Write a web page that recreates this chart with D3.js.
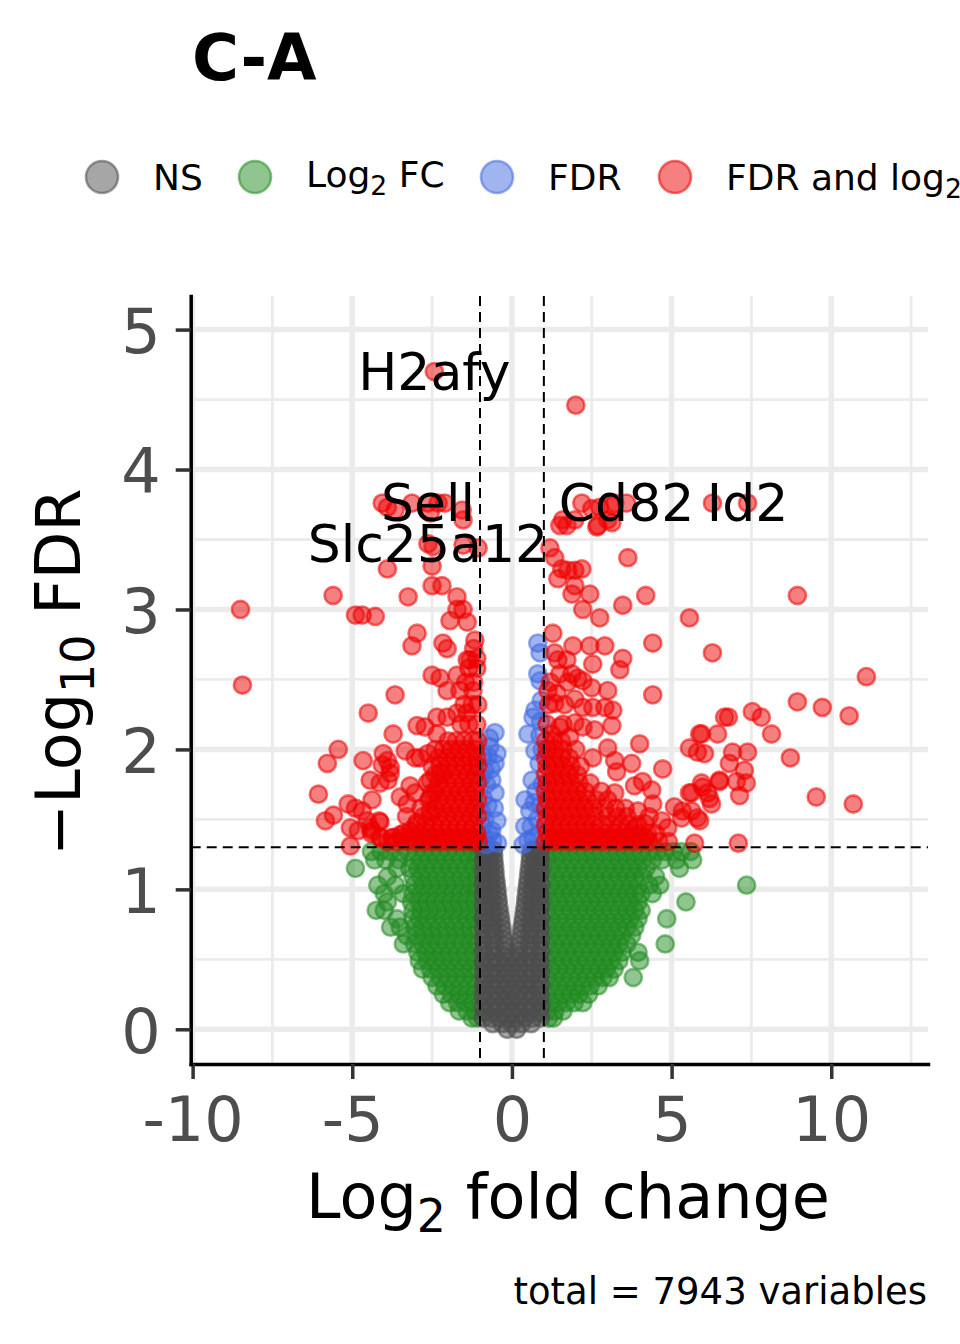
<!DOCTYPE html>
<html>
<head>
<meta charset="utf-8">
<script src="https://cdn.jsdelivr.net/npm/d3@7"></script>
<style>
body { margin: 0; background: #fff; }
text { font-family: "DejaVu Sans", sans-serif; }
</style>
</head>
<body>
<script>
// volcano plot C-A

var xTicks = [-10, -5, 0, 5, 10];
var yTicks = [0, 1, 2, 3, 4, 5];
var xMinor = [-7.5, -2.5, 2.5, 7.5, 12.5];
var yMinor = [0.5, 1.5, 2.5, 3.5, 4.5];
var fcCutoff = 1;
var fdrCutoff = 0.05;
var totalGenes = 7943;

// NS (grey) rows: [ -log10 FDR, [log2FC ...] ]
var nsRows = [
  [1.28, [-0.9, -0.73, -0.58, 0.6, 0.75, 0.9]],
  [1.24, [-0.84, -0.68, -0.57, 0.58, 0.7, 0.86]],
  [1.20, [-0.9, -0.72, -0.56, 0.57, 0.74, 0.9]],
  [1.16, [-0.84, -0.67, -0.54, 0.55, 0.68, 0.85]],
  [1.12, [-0.9, -0.72, -0.53, 0.53, 0.72, 0.9]],
  [1.08, [-0.84, -0.66, -0.51, 0.51, 0.66, 0.84]],
  [1.04, [-0.9, -0.7, -0.49, 0.49, 0.7, 0.9]],
  [1.00, [-0.84, -0.64, -0.47, 0.47, 0.64, 0.84]],
  [0.96, [-0.9, -0.68, -0.45, 0.45, 0.68, 0.9]],
  [0.92, [-0.84, -0.62, -0.43, 0.43, 0.62, 0.84]],
  [0.88, [-0.9, -0.66, -0.41, 0.41, 0.66, 0.9]],
  [0.84, [-0.84, -0.6, -0.39, 0.39, 0.6, 0.84]],
  [0.80, [-0.9, -0.64, -0.36, 0.36, 0.64, 0.9]],
  [0.76, [-0.84, -0.58, -0.34, 0.34, 0.58, 0.84]],
  [0.72, [-0.9, -0.62, -0.31, 0.31, 0.62, 0.9]],
  [0.68, [-0.84, -0.56, -0.29, 0.29, 0.56, 0.84]],
  [0.64, [-0.9, -0.6, -0.27, 0.27, 0.6, 0.9]],
  [0.60, [-0.84, -0.54, -0.24, 0.24, 0.54, 0.84]],
  [0.56, [-0.9, -0.58, -0.22, 0.22, 0.58, 0.9]],
  [0.52, [-0.84, -0.55, -0.25, 0, 0.25, 0.55, 0.84]],
  [0.48, [-0.9, -0.65, -0.4, -0.13, 0.13, 0.4, 0.65, 0.9]],
  [0.44, [-0.84, -0.55, -0.25, 0, 0.25, 0.55, 0.84]],
  [0.40, [-0.9, -0.65, -0.4, -0.13, 0.13, 0.4, 0.65, 0.9]],
  [0.36, [-0.84, -0.55, -0.25, 0, 0.25, 0.55, 0.84]],
  [0.32, [-0.9, -0.65, -0.4, -0.13, 0.13, 0.4, 0.65, 0.9]],
  [0.28, [-0.84, -0.55, -0.25, 0, 0.25, 0.55, 0.84]],
  [0.24, [-0.9, -0.65, -0.4, -0.13, 0.13, 0.4, 0.65, 0.9]],
  [0.20, [-0.84, -0.55, -0.25, 0, 0.25, 0.55, 0.84]],
  [0.16, [-0.9, -0.65, -0.4, -0.13, 0.13, 0.4, 0.65, 0.9]],
  [0.12, [-0.84, -0.55, -0.25, 0, 0.25, 0.55, 0.84]],
  [0.08, [-0.9, -0.65, -0.4, -0.13, 0.13, 0.4, 0.65, 0.9]],
  [0.04, [-0.6, -0.3, 0, 0.3, 0.6]],
  [0.0, [-0.15, 0.15]]
];

// Log2 FC only (green) rows
var fcRows = [
  [1.27, [-4.4, -4.1, -3.8, -3.5, -3.25, -3.0, -2.75, -2.5, -2.25, -2.0, -1.75, -1.5, -1.25, -1.08,
          1.08, 1.3, 1.55, 1.8, 2.05, 2.3, 2.55, 2.8, 3.05, 3.3, 3.55, 3.8, 4.05, 4.3, 4.55, 4.8, 5.05, 5.3, 5.6]],
  [1.21, [-4.3, -3.95, -3.55, -3.1, -2.85, -2.6, -2.35, -2.1, -1.85, -1.6, -1.35, -1.1,
          1.1, 1.35, 1.6, 1.85, 2.1, 2.35, 2.6, 2.85, 3.1, 3.35, 3.6, 3.85, 4.1, 4.4, 4.7, 5.15, 5.66]],
  [1.15, [-4.9, -3.6, -3.2, -2.95, -2.7, -2.45, -2.2, -1.95, -1.7, -1.45, -1.2,
          1.2, 1.45, 1.7, 1.95, 2.2, 2.45, 2.7, 2.95, 3.2, 3.45, 3.7, 3.95, 4.2, 5.25]],
  [1.09, [-3.9, -3.1, -2.85, -2.6, -2.35, -2.1, -1.85, -1.6, -1.35, -1.1,
          1.1, 1.35, 1.6, 1.85, 2.1, 2.35, 2.6, 2.85, 3.1, 3.35, 3.6, 3.85, 4.1, 4.5]],
  [1.03, [-4.2, -3.65, -3.05, -2.8, -2.55, -2.3, -2.05, -1.8, -1.55, -1.3, -1.08,
          1.2, 1.45, 1.7, 1.95, 2.2, 2.45, 2.7, 2.95, 3.2, 3.45, 3.7, 3.95, 4.3, 4.63, 7.35]],
  [0.97, [-4.0, -3.4, -3.1, -2.85, -2.6, -2.35, -2.1, -1.85, -1.6, -1.35, -1.12,
          1.1, 1.35, 1.6, 1.85, 2.1, 2.35, 2.6, 2.85, 3.1, 3.35, 3.6, 3.85, 4.05, 4.4]],
  [0.91, [-3.9, -3.15, -2.9, -2.65, -2.4, -2.15, -1.9, -1.65, -1.4, -1.15,
          1.2, 1.45, 1.7, 1.95, 2.2, 2.45, 2.7, 2.95, 3.2, 3.45, 3.7, 3.95, 5.45]],
  [0.85, [-4.25, -4.0, -3.1, -2.85, -2.6, -2.35, -2.1, -1.85, -1.6, -1.35, -1.1,
          1.1, 1.35, 1.6, 1.85, 2.1, 2.35, 2.6, 2.85, 3.1, 3.35, 3.6, 3.85, 4.05]],
  [0.79, [-3.6, -3.1, -2.9, -2.65, -2.4, -2.15, -1.9, -1.65, -1.4, -1.15,
          1.2, 1.45, 1.7, 1.95, 2.2, 2.45, 2.7, 2.95, 3.2, 3.45, 3.7, 3.95, 4.85]],
  [0.73, [-3.8, -3.5, -3.05, -2.8, -2.55, -2.3, -2.05, -1.8, -1.55, -1.3, -1.08,
          1.1, 1.35, 1.6, 1.85, 2.1, 2.35, 2.6, 2.85, 3.1, 3.35, 3.6, 3.85]],
  [0.67, [-3.3, -3.0, -2.75, -2.5, -2.25, -2.0, -1.75, -1.5, -1.25,
          1.2, 1.45, 1.7, 1.95, 2.2, 2.45, 2.7, 2.95, 3.2, 3.45, 3.75]],
  [0.61, [-3.4, -3.05, -2.8, -2.55, -2.3, -2.05, -1.8, -1.55, -1.3, -1.08,
          1.1, 1.35, 1.6, 1.85, 2.1, 2.35, 2.6, 2.85, 3.1, 3.35, 3.6, 4.8]],
  [0.55, [-2.95, -2.7, -2.45, -2.2, -1.95, -1.7, -1.45, -1.2,
          1.2, 1.45, 1.7, 1.95, 2.2, 2.45, 2.7, 2.95, 3.2, 3.45, 3.95]],
  [0.49, [-2.9, -2.65, -2.4, -2.15, -1.9, -1.65, -1.4, -1.15,
          1.1, 1.35, 1.6, 1.85, 2.1, 2.35, 2.6, 2.85, 3.1, 3.35, 4.0]],
  [0.43, [-2.8, -2.55, -2.3, -2.05, -1.8, -1.55, -1.3, -1.08,
          1.2, 1.45, 1.7, 1.95, 2.2, 2.45, 2.7, 2.95, 3.2]],
  [0.37, [-2.5, -2.25, -2.0, -1.75, -1.5, -1.25,
          1.1, 1.35, 1.6, 1.85, 2.1, 2.35, 2.6, 2.85, 3.05, 3.8]],
  [0.31, [-2.35, -2.1, -1.85, -1.6, -1.35, -1.1,
          1.2, 1.45, 1.7, 1.95, 2.2, 2.45, 2.7]],
  [0.25, [-2.15, -1.9, -1.65, -1.4, -1.15, 1.1, 1.35, 1.6, 1.85, 2.1, 2.4]],
  [0.19, [-1.95, -1.7, -1.45, -1.2, 1.2, 1.45, 1.7, 1.95, 2.22]],
  [0.13, [-1.65, -1.4, -1.15, 1.1, 1.35, 1.6]],
  [0.08, [-1.25, -1.08, 1.15, 1.3]]
];

// FDR only (blue) points [log2FC, -log10 FDR]
var fdrPoints = [
  [-0.53, 2.12], [-0.69, 2.02], [-0.47, 1.97], [-0.53, 1.9], [-0.63, 1.78], [-0.53, 1.69],
  [-0.47, 1.49], [-0.63, 1.42], [-0.9, 1.95], [-0.85, 1.85], [-0.8, 1.75], [-0.9, 1.65],
  [-0.75, 1.6], [-0.85, 1.5], [-0.7, 1.4], [-0.9, 1.38], [-0.6, 1.35], [-0.95, 1.8],
  [-0.95, 1.55], [-0.75, 1.95], [-0.55, 1.58], [-0.8, 1.32], [-0.45, 1.33], [-0.7, 2.08],
  [-0.92, 1.45], [-0.65, 1.86],
  [0.81, 2.76], [0.88, 2.69], [0.81, 2.54], [0.88, 2.49], [0.72, 2.28], [0.66, 2.23],
  [0.5, 2.11], [0.72, 1.99], [0.63, 1.78], [0.41, 1.64], [0.56, 1.56], [0.66, 1.37],
  [0.9, 2.2], [0.95, 2.0], [0.85, 1.9], [0.75, 1.7], [0.9, 1.6], [0.8, 1.5], [0.6, 1.45],
  [0.5, 1.35], [0.85, 1.4], [0.95, 1.75], [0.35, 1.32], [0.4, 1.45], [0.7, 1.62],
  [0.92, 2.35], [0.88, 2.1]
];

// FDR and log2 FC (red), dense part as rows
var bothRows = [
  [1.34, [-3.9, -3.6, -3.3, -3.0, -2.75, -2.5, -2.25, -2.0, -1.75, -1.5, -1.25, -1.05,
          1.05, 1.3, 1.55, 1.8, 2.05, 2.3, 2.55, 2.8, 3.05, 3.3, 3.55, 3.8, 4.05, 4.3, 4.6, 4.9]],
  [1.37, [-4.1, -3.75, -3.45, -3.15, -2.85, -2.6, -2.35, -2.1, -1.85, -1.6, -1.35, -1.15,
          1.2, 1.45, 1.7, 1.95, 2.2, 2.45, 2.7, 2.95, 3.2, 3.45, 3.7, 3.95, 4.2]],
  [1.40, [-4.4, -3.4, -3.15, -2.85, -2.6, -2.35, -2.1, -1.85, -1.6, -1.35, -1.1,
          1.1, 1.35, 1.6, 1.85, 2.1, 2.35, 2.6, 2.9, 3.2, 3.5, 3.75, 4.0, 4.25, 4.5]],
  [1.46, [-3.0, -2.7, -2.45, -2.2, -1.95, -1.7, -1.45, -1.2,
          1.05, 1.3, 1.55, 1.8, 2.05, 2.3, 2.55, 2.85, 3.1, 3.4, 3.65, 3.95]],
  [1.52, [-3.3, -2.55, -2.3, -2.05, -1.8, -1.55, -1.3, -1.07,
          1.1, 1.35, 1.6, 1.85, 2.1, 2.35, 2.6, 3.0, 3.3, 3.6, 4.3]],
  [1.58, [-2.85, -2.4, -2.15, -1.9, -1.65, -1.4, -1.15,
          1.05, 1.3, 1.55, 1.8, 2.05, 2.3, 2.55, 2.9, 3.25, 3.55]],
  [1.64, [-2.6, -2.3, -2.05, -1.8, -1.55, -1.3, -1.07, 1.1, 1.35, 1.6, 1.85, 2.1, 2.35, 2.65, 3.0]],
  [1.70, [-2.4, -2.15, -1.9, -1.65, -1.4, -1.15, 1.05, 1.3, 1.55, 1.8, 2.05, 2.3, 2.8]],
  [1.76, [-2.65, -2.3, -2.05, -1.8, -1.55, -1.3, -1.07, 1.1, 1.35, 1.6, 1.85, 2.1, 2.45]],
  [1.82, [-2.4, -2.15, -1.9, -1.65, -1.4, -1.15, 1.05, 1.3, 1.55, 1.8, 2.05]],
  [1.88, [-2.5, -2.25, -2.0, -1.75, -1.5, -1.25, -1.07, 1.1, 1.35, 1.6, 1.85, 2.15]],
  [1.94, [-2.3, -2.05, -1.8, -1.55, -1.3, -1.1, 1.05, 1.3, 1.55, 1.8]],
  [2.00, [-2.4, -2.15, -1.9, -1.65, -1.4, -1.15, 1.1, 1.35, 1.6, 2.0]],
  [2.06, [-2.0, -1.75, -1.5, -1.25, -1.07, 1.05, 1.3, 1.55]],
  [2.18, [-1.6, -1.35, -1.1, 1.1, 1.6]],
  [2.32, [-1.5, -1.25, -1.07, 1.15, 1.65]],
  [2.48, [-1.45, -1.2, 1.2, 1.75]],
  [2.58, [-1.35, -1.1]],
  [2.72, [-1.2]]
];

// FDR and log2 FC (red), scattered points
var bothPoints = [
  [-2.43, 4.70], [-8.5, 3.0], [-8.44, 2.46], [-5.6, 3.1], [-4.9, 2.96], [-4.69, 2.96], [-4.28, 2.95],
  [-4.06, 3.76], [-3.9, 3.73], [-3.66, 3.71], [-3.13, 3.76], [-2.56, 3.69], [-2.31, 3.76],
  [-2.1, 3.76], [-1.56, 3.71], [-1.53, 3.64], [-2.63, 3.76],
  [-2.63, 3.47], [-2.47, 3.45], [-1.53, 3.46], [-1.06, 3.44], [-3.9, 3.29], [-2.5, 3.31],
  [-3.25, 3.09], [-2.5, 3.17], [-2.19, 3.17], [-1.72, 3.09], [-1.72, 3.0], [-1.53, 3.0],
  [-1.94, 2.92], [-1.4, 2.91], [-2.97, 2.83], [-3.13, 2.74], [-2.16, 2.76], [-2.03, 2.72],
  [-1.16, 2.78], [-1.4, 2.64], [-1.1, 2.65], [-1.31, 2.64], [-2.5, 2.53], [-2.25, 2.51],
  [-1.72, 2.53], [-3.66, 2.39], [-2.03, 2.42], [-1.63, 2.42], [-1.22, 2.42],
  [-4.5, 2.26], [-2.35, 2.23], [-2.03, 2.23], [-1.72, 2.26], [-1.41, 2.26], [-2.97, 2.17],
  [-2.72, 2.16], [-3.72, 2.11], [-2.35, 2.11], [-5.44, 2.0], [-5.78, 1.9], [-4.66, 1.92],
  [-4.03, 1.97], [-3.9, 1.92], [-4.06, 1.89], [-3.81, 1.87], [-3.34, 1.99], [-3.03, 1.94],
  [-2.88, 1.94], [-2.63, 1.97], [-6.06, 1.68], [-5.84, 1.49], [-5.59, 1.53], [-5.13, 1.61],
  [-4.9, 1.58], [-4.69, 1.56], [-5.06, 1.44], [-4.81, 1.42], [-4.44, 1.78], [-4.13, 1.76],
  [-3.88, 1.78], [-3.81, 1.83], [-4.38, 1.64], [-4.13, 1.48], [-4.44, 1.44], [-4.53, 1.49],
  [-3.5, 1.66], [-3.28, 1.61], [-3.03, 1.69], [-3.19, 1.74], [-5.06, 1.31], [-3.72, 1.37],
  [-3.5, 1.39], [-3.19, 1.42], [-2.97, 1.48], [-2.78, 1.52], [-2.56, 1.56], [-2.56, 1.78],
  [-2.25, 1.83], [-2.5, 1.69], [-2.56, 1.65], [-4.16, 1.49], [-4.38, 1.42], [-4.13, 1.37],
  [2.0, 4.46], [2.19, 3.76], [1.59, 3.64], [1.5, 3.6], [1.72, 3.6], [1.97, 3.64], [2.69, 3.6],
  [3.0, 3.64], [3.13, 3.74], [3.59, 3.76], [2.5, 3.72], [6.28, 3.76], [7.38, 3.76], [2.75, 3.73],
  [3.22, 3.76], [2.66, 3.59], [3.13, 3.62], [1.19, 3.44], [1.34, 3.37], [1.56, 3.29],
  [1.75, 3.28], [1.97, 3.28], [2.19, 3.29], [1.44, 3.22], [3.63, 3.37], [1.97, 3.17],
  [1.88, 3.11], [2.44, 3.11], [2.22, 3.0], [2.75, 2.94], [3.47, 3.03], [4.19, 3.1], [5.56, 2.94],
  [8.94, 3.1], [1.28, 2.83], [1.91, 2.74], [2.44, 2.74], [2.91, 2.74], [2.53, 2.61], [3.47, 2.65],
  [4.41, 2.76], [6.28, 2.69], [1.34, 2.69], [1.44, 2.64], [1.72, 2.64], [3.38, 2.57], [1.5, 2.54],
  [1.88, 2.54], [2.06, 2.51], [2.22, 2.49], [4.41, 2.39], [2.5, 2.44], [3.0, 2.42], [1.13, 2.42],
  [1.41, 2.4], [1.34, 2.33], [1.97, 2.36], [2.22, 2.3], [2.53, 2.3], [2.91, 2.3], [3.16, 2.28],
  [3.13, 2.17], [2.59, 2.14], [1.97, 2.19], [2.22, 2.16], [1.5, 2.16], [1.25, 2.11], [1.81, 2.09],
  [4.0, 2.04], [3.0, 2.01], [2.53, 1.94], [3.22, 1.92], [3.28, 1.84], [3.75, 1.9], [4.72, 1.86],
  [5.56, 2.01], [5.81, 1.98], [6.03, 1.97], [5.88, 2.11], [6.44, 2.11], [6.66, 2.23],
  [5.56, 1.69], [5.94, 1.76], [6.13, 1.69], [6.25, 1.61], [6.5, 1.78], [3.22, 1.69], [3.84, 1.74],
  [4.09, 1.77], [4.38, 1.71], [4.41, 1.61], [3.94, 1.56], [5.09, 1.59], [5.34, 1.56], [5.63, 1.56],
  [5.81, 1.51], [4.16, 1.47], [4.69, 1.49], [4.88, 1.44], [3.84, 1.44], [5.72, 1.33],
  [11.1, 2.52], [8.94, 2.34], [9.72, 2.3], [10.56, 2.24], [7.53, 2.27], [7.81, 2.23], [8.13, 2.11],
  [6.78, 2.23], [5.94, 2.11], [6.91, 1.98], [7.38, 1.98], [8.72, 1.94], [6.81, 1.9], [7.28, 1.85],
  [6.5, 1.77], [7.03, 1.77], [7.34, 1.76], [5.97, 1.73], [5.63, 1.69], [6.19, 1.65], [7.13, 1.67],
  [9.53, 1.66], [10.69, 1.61], [7.09, 1.33], [5.31, 1.51], [5.88, 1.49]
];

var geneLabels = [
  { gene: "H2afy", x: -2.43, y: 4.70 },
  { gene: "Sell", x: -2.63, y: 3.76 },
  { gene: "Slc25a12", x: -2.63, y: 3.47 },
  { gene: "Cd82", x: 3.59, y: 3.76 },
  { gene: "Id2", x: 7.38, y: 3.76 }
];

var colNS = "#4D4D4D", colFC = "#228B22", colFDR = "#4169E1", colBoth = "#EE0000";

var legendItems = [
  { color: colNS, parts: [["NS", false]] },
  { color: colFC, parts: [["Log", false], ["2", true], [" FC", false]] },
  { color: colFDR, parts: [["FDR", false]] },
  { color: colBoth, parts: [["FDR and log", false], ["2", true], [" FC", false]] }
];

function expand(rows) {
  return rows.flatMap(function (r) { return r[1].map(function (v) { return [v, r[0]]; }); });
}

// layout (panel edges in pixels)
var width = 960, height = 1344;
var panelLeft = 190.7, panelRight = 928, panelTop = 296, panelBottom = 1064;

var svg = d3.select("body").append("svg")
  .attr("width", width).attr("height", height);

var x = d3.scaleLinear().domain([-10.06, 13.03]).range([panelLeft, panelRight]);
var y = d3.scaleLinear().domain([-0.248, 5.24]).range([panelBottom, panelTop]);

// grid
var grid = svg.append("g");
grid.selectAll(".vminor").data(xMinor).join("line")
  .attr("x1", d => x(d)).attr("x2", d => x(d)).attr("y1", panelTop).attr("y2", panelBottom)
  .attr("stroke", "#ebebeb").attr("stroke-width", 2.8);
grid.selectAll(".hminor").data(yMinor).join("line")
  .attr("x1", panelLeft).attr("x2", panelRight).attr("y1", d => y(d)).attr("y2", d => y(d))
  .attr("stroke", "#ebebeb").attr("stroke-width", 2.8);
grid.selectAll(".vmajor").data(xTicks).join("line")
  .attr("x1", d => x(d)).attr("x2", d => x(d)).attr("y1", panelTop).attr("y2", panelBottom)
  .attr("stroke", "#ebebeb").attr("stroke-width", 5.5);
grid.selectAll(".hmajor").data(yTicks).join("line")
  .attr("x1", panelLeft).attr("x2", panelRight).attr("y1", d => y(d)).attr("y2", d => y(d))
  .attr("stroke", "#ebebeb").attr("stroke-width", 5.5);

// points
var pts = svg.append("g");
function drawPoints(data, color) {
  pts.append("g").selectAll("circle").data(data).join("circle")
    .attr("cx", d => x(d[0])).attr("cy", d => y(d[1])).attr("r", 8.6)
    .attr("fill", color).attr("fill-opacity", 0.5)
    .attr("stroke", color).attr("stroke-opacity", 0.55).attr("stroke-width", 2.6);
}
drawPoints(expand(fcRows), colFC);
drawPoints(expand(nsRows), colNS);
drawPoints(fdrPoints, colFDR);
drawPoints(expand(bothRows), colBoth);
drawPoints(bothPoints, colBoth);

// cutoff lines
var cut = svg.append("g").attr("stroke", "#000").attr("stroke-width", 2).attr("stroke-dasharray", "10,6");
cut.selectAll("line.v").data([-fcCutoff, fcCutoff]).join("line")
  .attr("x1", d => x(d)).attr("x2", d => x(d)).attr("y1", panelTop).attr("y2", panelBottom);
cut.append("line")
  .attr("x1", panelLeft).attr("x2", panelRight)
  .attr("y1", y(-Math.log10(fdrCutoff))).attr("y2", y(-Math.log10(fdrCutoff)));

// gene labels
svg.append("g").selectAll("text").data(geneLabels).join("text")
  .attr("x", d => x(d.x)).attr("y", d => y(d.y) + 18)
  .attr("text-anchor", "middle").attr("font-size", 52).attr("fill", "#000")
  .text(d => d.gene);

// axes
var xAxis = svg.append("g").attr("transform", "translate(0," + panelBottom + ")")
  .call(d3.axisBottom(x).tickValues(xTicks).tickSize(15).tickSizeOuter(0).tickPadding(18)
    .tickFormat(d => String(d)));
var yAxis = svg.append("g").attr("transform", "translate(" + panelLeft + ",0)")
  .call(d3.axisLeft(y).tickValues(yTicks).tickSize(15).tickSizeOuter(0).tickPadding(15)
    .tickFormat(d => String(d)));
[xAxis, yAxis].forEach(function (a) {
  a.select(".domain").attr("stroke", "#000").attr("stroke-width", 3.5).attr("stroke-linecap", "square");
  a.selectAll(".tick line").attr("stroke", "#333").attr("stroke-width", 3.5);
  a.selectAll(".tick text").attr("font-size", 62).attr("fill", "#4D4D4D")
    .attr("font-family", "DejaVu Sans");
});
yAxis.selectAll(".tick text").attr("dy", "0.37em");

// axis titles
var xt = svg.append("text").attr("x", 568).attr("y", 1218).attr("text-anchor", "middle")
  .attr("font-size", 62).attr("fill", "#000");
xt.append("tspan").text("Log");
xt.append("tspan").attr("font-size", "0.74em").attr("dy", 14).text("2");
xt.append("tspan").attr("dy", -14).text(" fold change");

var yt = svg.append("text").attr("transform", "translate(80,672) rotate(-90)")
  .attr("text-anchor", "middle").attr("font-size", 62).attr("fill", "#000");
yt.append("tspan").text("\u2212Log");
yt.append("tspan").attr("font-size", "0.74em").attr("dy", 14).text("10");
yt.append("tspan").attr("dy", -14).text(" FDR");

// title
svg.append("text").attr("x", 192).attr("y", 80).attr("font-size", 64).attr("font-weight", "bold")
  .attr("fill", "#000").text("C-A");

// legend
var legendX = [102, 255, 497, 675];
var leg = svg.append("g");
legendItems.forEach(function (item, i) {
  leg.append("circle").attr("cx", legendX[i]).attr("cy", 177).attr("r", 16)
    .attr("fill", item.color).attr("fill-opacity", 0.5)
    .attr("stroke", item.color).attr("stroke-opacity", 0.55).attr("stroke-width", 2.6);
  var t = leg.append("text").attr("x", legendX[i] + 51).attr("y", i === 1 ? 187 : 190)
    .attr("font-size", 36).attr("fill", "#000");
  item.parts.forEach(function (p, j) {
    var ts = t.append("tspan").text(p[0]);
    if (p[1]) ts.attr("font-size", "0.74em").attr("dy", 8);
    else if (j > 0 && item.parts[j - 1][1]) ts.attr("dy", -8);
  });
});

// caption
svg.append("text").attr("x", 927).attr("y", 1304).attr("text-anchor", "end")
  .attr("font-size", 37).attr("fill", "#000")
  .text("total = " + totalGenes + " variables");
</script>
</body>
</html>
